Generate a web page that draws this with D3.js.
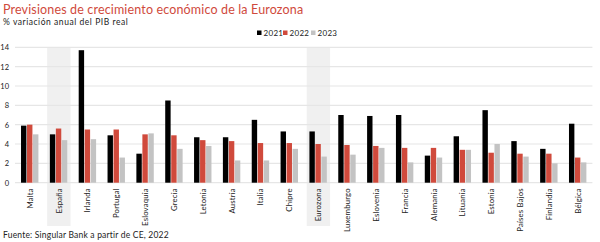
<!DOCTYPE html>
<html lang="es">
<head>
<meta charset="UTF-8">
<title>Previsiones de crecimiento económico de la Eurozona</title>
<script src="https://d3js.org/d3.v7.min.js"></script>
<style>
  body { margin: 0; background: #fff; font-family: Lato, "Open Sans", sans-serif; }
  .grid line { stroke: #e6e6e6; stroke-width: 1.2; }
  .tick text { fill: #222; }
</style>
</head>
<body>
<svg id="chart" width="600" height="242"></svg>
<script>
// datos (% variación anual del PIB real)
const paises = ["Malta", "España", "Irlanda", "Portugal", "Eslovaquia", "Grecia", "Letonia", "Austria", "Italia", "Chipre",
                "Eurozona", "Luxemburgo", "Eslovenia", "Francia", "Alemania", "Lituania", "Estonia", "Países Bajos", "Finlandia", "Bélgica"];
const y2021 = [5.9, 5.0, 13.7, 4.9, 3.0, 8.5, 4.7, 4.7, 6.5, 5.3, 5.3, 7.0, 6.9, 7.0, 2.8, 4.8, 7.5, 4.3, 3.5, 6.1];
const y2022 = [6.0, 5.6, 5.5, 5.5, 5.0, 4.9, 4.4, 4.3, 4.1, 4.1, 4.0, 3.9, 3.8, 3.6, 3.6, 3.4, 3.1, 3.0, 3.0, 2.6];
const y2023 = [5.0, 4.4, 4.5, 2.6, 5.1, 3.5, 3.8, 2.3, 2.3, 3.5, 2.7, 2.9, 3.6, 2.1, 2.6, 3.4, 4.0, 2.7, 2.0, 2.1];
const series = ["2021", "2022", "2023"];
const destacados = ["España", "Eurozona"];
const yTicks = [0, 2, 4, 6, 8, 10, 12, 14];

const colores = { "2021": "#000000", "2022": "#d04a3c", "2023": "#c3c3c3" };
const valores = { "2021": y2021, "2022": y2022, "2023": y2023 };

const svg = d3.select("#chart");
const mLeft = 15.6, mRight = 592.4, mTop = 47.3, mBottom = 182.7;

const x = d3.scaleBand().domain(paises).range([mLeft, mRight]).padding(0);
const y = d3.scaleLinear().domain([0, 14]).range([mBottom, mTop]);
const barW = 6;
const xs = d3.scaleBand().domain(series).range([0, barW * 3]);

// sombreado de España y Eurozona
svg.selectAll("rect.shade")
  .data(destacados)
  .enter().append("rect")
  .attr("class", "shade")
  .attr("x", d => x(d) + x.bandwidth() / 2 - 11.7)
  .attr("width", 23.4)
  .attr("y", mTop)
  .attr("height", 226 - mTop)
  .attr("fill", "#f0f0f0");

// líneas de cuadrícula
svg.append("g")
  .attr("class", "grid")
  .selectAll("line")
  .data(yTicks)
  .enter().append("line")
  .attr("x1", 15).attr("x2", mRight)
  .attr("y1", d => y(d)).attr("y2", d => y(d));

// eje Y
const yAxis = svg.append("g")
  .attr("transform", "translate(10,0)")
  .call(d3.axisLeft(y).tickValues(yTicks).tickSize(0).tickPadding(1));
yAxis.select(".domain").remove();
yAxis.selectAll("text").style("font-size", "7.5px").attr("font-family", "Lato, sans-serif");

// barras
series.forEach(s => {
  svg.append("g")
    .selectAll("rect")
    .data(paises.map((p, i) => ({ p, v: valores[s][i] })))
    .enter().append("rect")
    .attr("x", d => x(d.p) + x.bandwidth() / 2 - barW * 1.5 + xs(s))
    .attr("width", barW - 0.6)
    .attr("y", d => y(d.v))
    .attr("height", d => y(0) - y(d.v))
    .attr("fill", colores[s]);
});

// eje X (etiquetas verticales)
const xAxis = svg.append("g")
  .attr("transform", `translate(0,${mBottom})`)
  .call(d3.axisBottom(x).tickSize(0));
xAxis.select(".domain").remove();
xAxis.selectAll("text")
  .attr("transform", "rotate(-90)")
  .attr("text-anchor", "end")
  .attr("x", -5.5)
  .attr("y", 0)
  .attr("dy", "0.35em")
  .style("font-size", "7.8px")
  .style("letter-spacing", "0.15px")
  .attr("font-family", "Lato, sans-serif");

// títulos
svg.append("text")
  .attr("x", 3).attr("y", 14)
  .attr("fill", "#d04a3c")
  .style("font-size", "12.5px")
  .style("letter-spacing", "0.15px")
  .text("Previsiones de crecimiento económico de la Eurozona");
svg.append("text")
  .attr("x", 3).attr("y", 24.5)
  .attr("fill", "#222")
  .style("font-size", "8.5px")
  .style("letter-spacing", "0.55px")
  .text("% variación anual del PIB real");

// leyenda
const legX = [257, 283, 311];
const leg = svg.append("g");
series.forEach((s, i) => {
  leg.append("rect")
    .attr("x", legX[i]).attr("y", 30.5)
    .attr("width", 4.5).attr("height", 4.5)
    .attr("fill", colores[s]);
  leg.append("text")
    .attr("x", legX[i] + 6.5).attr("y", 35.5)
    .attr("fill", "#222")
    .style("font-size", "8px")
    .style("letter-spacing", "0.3px")
    .text(s);
});

// fuente
svg.append("text")
  .attr("x", 3).attr("y", 238)
  .attr("fill", "#222")
  .style("font-size", "8.5px")
  .style("letter-spacing", "0.2px")
  .text("Fuente: Singular Bank a partir de CE, 2022");
</script>
</body>
</html>
